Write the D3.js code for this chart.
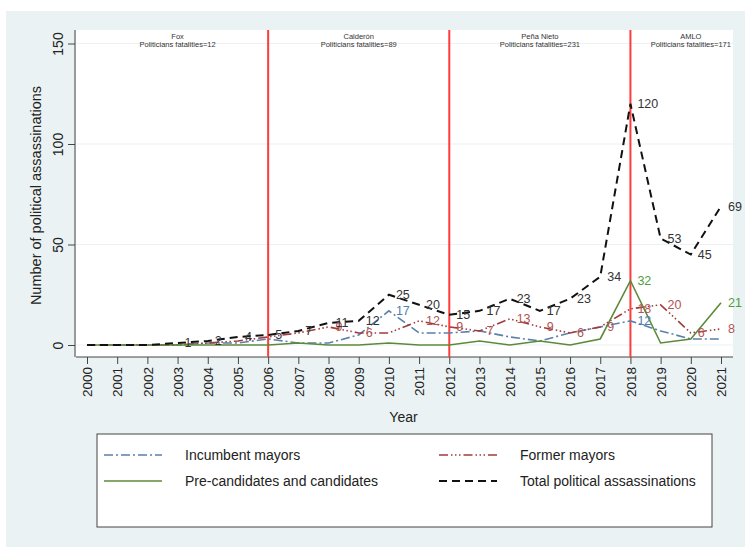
<!DOCTYPE html>
<html>
<head>
<meta charset="utf-8">
<script src="https://cdn.jsdelivr.net/npm/d3@7"></script>
<style>
  body { margin: 0; background: #fff; }
  text { font-family: Arial, "Liberation Sans", sans-serif; }
</style>
</head>
<body>
<div id="chart"></div>
<script>
let width = 745;
let height = 547;

// Data
var years = d3.range(2000, 2022);
var incumbent = [0,0,0,0,1,1,3,1,1,5,17,6,6,7,4,2,6,9,12,7,3,3];
var former = [0,0,0,0,1,2,4,6,9,6,6,12,9,7,13,9,6,9,18,20,6,8];
var candidates = [0,0,0,0,0,0,0,1,0,0,1,0,0,2,0,2,0,3,32,1,3,21];
var total = [0,0,0,1,2,4,5,7,11,12,25,20,15,17,23,17,23,34,120,53,45,69];

// which years carry a value label
var totalLabelYears = d3.range(2003, 2022);
var formerLabelYears = [2008,2009,2011,2012,2013,2014,2015,2016,2017,2018,2019,2020,2021];
var incumbentLabelYears = [2010, 2018];
var candidateLabelYears = [2018, 2021];

var termBreaks = [2006, 2012, 2018];
var terms = ["Fox", "Calderón", "Peña Nieto", "AMLO"];
var termFatalities = [12, 89, 231, 171];
var termLabelYears = [2003, 2009, 2015, 2020];
var yTicks = [0, 50, 100, 150];

let svg = d3.select("#chart").append("svg")
  .attr("width", width)
  .attr("height", height);

// graph region background
svg.append("rect")
  .attr("x", 6).attr("y", 11)
  .attr("width", width - 6).attr("height", height - 11)
  .attr("fill", "#eaf2f3");

var plotLeft = 76, plotRight = 733, plotTop = 30, plotBottom = 357;

svg.append("rect")
  .attr("x", plotLeft).attr("y", plotTop)
  .attr("width", plotRight - plotLeft).attr("height", plotBottom - plotTop)
  .attr("fill", "#fff");

var x = d3.scaleLinear().domain([2000, 2021]).range([87, 721]);
var y = d3.scaleLinear().domain([0, 150]).range([345, 43.5]);

// gridlines
svg.append("g")
  .selectAll("line")
  .data(yTicks)
  .enter()
  .append("line")
  .attr("x1", plotLeft).attr("x2", plotRight)
  .attr("y1", d => y(d)).attr("y2", d => y(d))
  .attr("stroke", "#eaf2f3")
  .attr("stroke-width", 1.2);

// y axis
var yAxis = svg.append("g")
  .attr("transform", "translate(" + (plotLeft - 1) + ",0)")
  .call(d3.axisLeft(y).tickValues(yTicks).tickSize(7).tickPadding(4));
yAxis.select(".domain").attr("d", "M0," + plotTop + "V" + plotBottom).attr("stroke", "#444");
yAxis.selectAll(".tick line").attr("stroke", "#444");
yAxis.selectAll(".tick text")
  .attr("font-size", 14)
  .attr("fill", "#222")
  .attr("transform", "rotate(-90)")
  .attr("x", 0).attr("y", -12)
  .attr("text-anchor", "middle")
  .attr("dy", "0");

svg.append("text")
  .attr("transform", "translate(41," + ((plotTop + plotBottom) / 2 + 2) + ") rotate(-90)")
  .attr("text-anchor", "middle")
  .attr("font-size", 14.5)
  .attr("fill", "#222")
  .text("Number of political assassinations");

// x axis
var xAxis = svg.append("g")
  .attr("transform", "translate(0," + plotBottom + ")")
  .call(d3.axisBottom(x).tickValues(years).tickFormat(d3.format("d")).tickSize(7));
xAxis.select(".domain").attr("d", "M" + plotLeft + ",0H" + plotRight).attr("stroke", "#444");
xAxis.selectAll(".tick line").attr("stroke", "#444");
xAxis.selectAll(".tick text")
  .attr("font-size", 13.5)
  .attr("fill", "#222")
  .attr("transform", "rotate(-90)")
  .attr("text-anchor", "end")
  .attr("x", -10).attr("y", 0)
  .attr("dy", "0.35em");

svg.append("text")
  .attr("x", (plotLeft + plotRight) / 2 - 1).attr("y", 422)
  .attr("text-anchor", "middle")
  .attr("font-size", 14)
  .attr("fill", "#222")
  .text("Year");

// presidential terms
svg.append("g")
  .selectAll("line")
  .data(termBreaks)
  .enter()
  .append("line")
  .attr("x1", d => x(d)).attr("x2", d => x(d))
  .attr("y1", plotTop).attr("y2", plotBottom)
  .attr("stroke", "#ff3b3b")
  .attr("stroke-width", 2);

var termG = svg.append("g")
  .selectAll("text")
  .data(terms)
  .enter()
  .append("text")
  .attr("x", (d, i) => x(termLabelYears[i]))
  .attr("y", 39)
  .attr("text-anchor", "middle")
  .attr("font-size", 7.5)
  .attr("fill", "#333");
termG.append("tspan").text(d => d);
termG.append("tspan")
  .attr("x", (d, i) => x(termLabelYears[i]))
  .attr("dy", 8)
  .text((d, i) => "Politicians fatalities=" + termFatalities[i]);

// series
var series = [
  { name: "Incumbent mayors", values: incumbent, color: "#5b80aa", dash: "9,3,2,3", width: 1.6,
    labelColor: "#4f7fad", labelYears: incumbentLabelYears },
  { name: "Former mayors", values: former, color: "#a33b3b", dash: "9,3,1.5,2.5,1.5,2.5,1.5,3", width: 1.6,
    labelColor: "#b05555", labelYears: formerLabelYears },
  { name: "Pre-candidates and candidates", values: candidates, color: "#5d8a3a", dash: null, width: 1.6,
    labelColor: "#4f9e3a", labelYears: candidateLabelYears },
  { name: "Total political assassinations", values: total, color: "#111", dash: "8,5", width: 2,
    labelColor: "#333", labelYears: totalLabelYears }
];

var line = d3.line()
  .x(d => x(d.year))
  .y(d => y(d.value));

series.forEach(function (s) {
  var pts = years.map((yr, i) => ({ year: yr, value: s.values[i] }));
  svg.append("path")
    .datum(pts)
    .attr("d", line)
    .attr("fill", "none")
    .attr("stroke", s.color)
    .attr("stroke-width", s.width)
    .attr("stroke-dasharray", s.dash);
});

series.forEach(function (s) {
  var pts = years.map((yr, i) => ({ year: yr, value: s.values[i] }))
    .filter(d => s.labelYears.indexOf(d.year) >= 0);
  svg.append("g")
    .selectAll("text")
    .data(pts)
    .enter()
    .append("text")
    .attr("x", d => x(d.year) + 7)
    .attr("y", d => y(d.value))
    .attr("dy", "0.35em")
    .attr("font-size", 12.5)
    .attr("fill", s.labelColor)
    .text(d => d.value);
});

// legend
svg.append("rect")
  .attr("x", 97).attr("y", 434)
  .attr("width", 615).attr("height", 93)
  .attr("fill", "#fff")
  .attr("stroke", "#444")
  .attr("stroke-width", 1);

var legendPos = [[104, 455], [439, 455], [104, 481], [439, 481]];
series.forEach(function (s, i) {
  var p = legendPos[i];
  svg.append("line")
    .attr("x1", p[0]).attr("x2", p[0] + 58)
    .attr("y1", p[1]).attr("y2", p[1])
    .attr("stroke", s.color)
    .attr("stroke-width", s.width)
    .attr("stroke-dasharray", s.dash);
  svg.append("text")
    .attr("x", p[0] + 81).attr("y", p[1])
    .attr("dy", "0.35em")
    .attr("font-size", 14)
    .attr("fill", "#222")
    .text(s.name);
});
</script>
</body>
</html>
